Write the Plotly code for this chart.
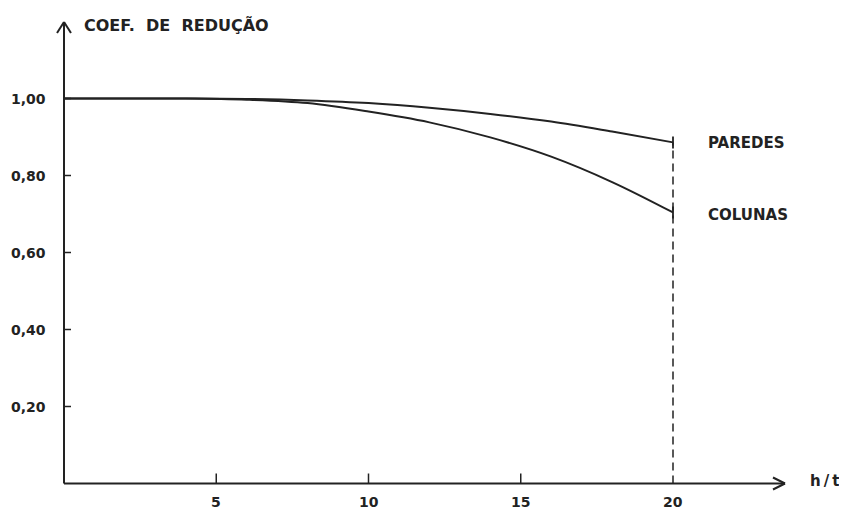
import plotly.graph_objects as go

# ---- data ----
h_t = [0, 2, 4, 6, 8, 10, 12, 14, 16, 18, 20]
paredes = [1.000, 1.000, 1.000, 0.999, 0.995, 0.988, 0.976, 0.960, 0.940, 0.914, 0.886]
colunas = [1.000, 1.000, 1.000, 0.997, 0.988, 0.966, 0.938, 0.899, 0.849, 0.783, 0.704]

x_ticks = [5, 10, 15, 20]
x_ticklabels = ["5", "10", "15", "20"]
y_ticks = [0.2, 0.4, 0.6, 0.8, 1.0]
y_ticklabels = ["0,20", "0,40", "0,60", "0,80", "1,00"]

series_names = ["PAREDES", "COLUNAS"]
y_title = "COEF.  DE  REDUÇÃO"
x_title = "h\u2009/\u2009t"
x_limit = 20

INK = "#222222"
FONT = "DejaVu Sans"

# pixel scale of the page (decorations only): page x px = X0 + PXX*x ; page y px = Y0 - PXY*y
PXX, X0 = 30.45, 64.0
PXY, Y0 = 385.0, 483.5
PAGE_W, PAGE_H, BODY = 847, 509, 8   # browser body margin of 8 px
W, H = PAGE_W - BODY, PAGE_H - BODY

def fx(px):  # page px -> x data
    return (px - X0) / PXX

def fy(py):  # page px -> y data
    return (Y0 - py) / PXY

fig = go.Figure()
for vals, name in ((paredes, series_names[0]), (colunas, series_names[1])):
    fig.add_trace(go.Scatter(x=h_t, y=vals, mode="lines",
                             line=dict(color=INK, width=2, shape="spline", smoothing=1.0),
                             name=name, showlegend=False, hoverinfo="skip"))

def line(x0, y0, x1, y1, width=2, dash=None):
    return dict(type="line", xref="x", yref="y", x0=x0, y0=y0, x1=x1, y1=y1,
                line=dict(color=INK, width=width, dash=dash))

shapes = []
# dashed limit line at h/t = 20
shapes.append(line(x_limit, 0, x_limit, paredes[-1], width=1.5, dash="8px,5px"))
# end caps
for yv in (paredes[-1], colunas[-1]):
    shapes.append(line(x_limit, yv - 6 / PXY, x_limit, yv + 6 / PXY, width=1.8))
# x axis with arrow
x_tip = fx(785)
shapes.append(line(0, 0, x_tip, 0))
for s in (1, -1):
    shapes.append(line(x_tip - 12 / PXX, s * 6 / PXY, x_tip, 0))
# y axis with arrow
y_tip = fy(22)
shapes.append(line(0, 0, 0, y_tip))
for s in (1, -1):
    shapes.append(line(s * 7 / PXX, y_tip - 11 / PXY, 0, y_tip))
# ticks
for xv in x_ticks[:3]:
    shapes.append(line(xv, 0, xv, 10 / PXY, width=1.5))
for yv in y_ticks:
    shapes.append(line(0, yv, 7 / PXX, yv, width=1.5))

tf = dict(family=FONT, size=14, color=INK, weight="bold")
big = dict(family=FONT, size=15, color=INK, weight="bold")
annotations = []
for xv, lab in zip(x_ticks, x_ticklabels):
    annotations.append(dict(x=xv, y=-18.5 / PXY, xref="x", yref="y", text=lab, showarrow=False,
                            xanchor="center", yanchor="middle", font=tf))
for yv, lab in zip(y_ticks, y_ticklabels):
    annotations.append(dict(x=fx(48), y=yv, xref="x", yref="y", text=lab, showarrow=False,
                            xanchor="right", yanchor="middle", font=tf))
annotations += [
    dict(x=fx(82), y=fy(25), xref="x", yref="y", text=y_title, showarrow=False,
         xanchor="left", yanchor="middle", font=dict(family=FONT, size=16, color=INK, weight="bold")),
    dict(x=fx(808), y=fy(481), xref="x", yref="y", text=x_title, showarrow=False,
         xanchor="left", yanchor="middle", font=big),
    dict(x=fx(706), y=paredes[-1] - 1 / PXY, xref="x", yref="y", text=series_names[0], showarrow=False,
         xanchor="left", yanchor="middle", font=big),
    dict(x=fx(706), y=colunas[-1] - 3 / PXY, xref="x", yref="y", text=series_names[1], showarrow=False,
         xanchor="left", yanchor="middle", font=big),
]

fig.update_layout(
    width=W, height=H,
    margin=dict(l=0, r=0, t=0, b=0),
    paper_bgcolor="white", plot_bgcolor="white",
    shapes=shapes, annotations=annotations,
    xaxis=dict(range=[fx(BODY), fx(PAGE_W)], visible=False, showgrid=False, zeroline=False),
    yaxis=dict(range=[fy(PAGE_H), fy(BODY)], visible=False, showgrid=False, zeroline=False),
)

fig.write_html("out.html")
